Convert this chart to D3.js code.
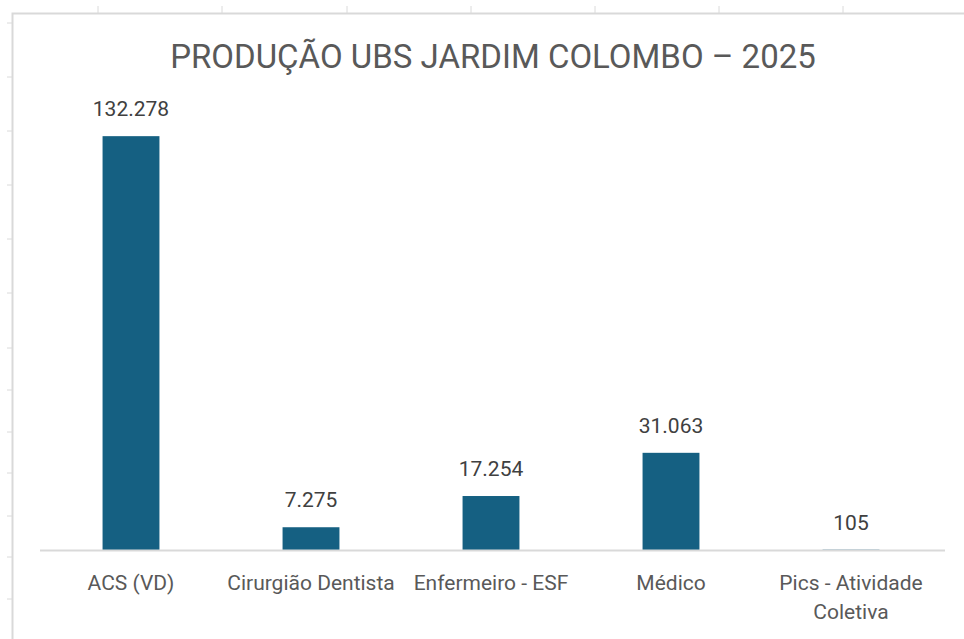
<!DOCTYPE html>
<html>
<head>
<meta charset="utf-8">
<script src="https://cdn.jsdelivr.net/npm/d3@7"></script>
<style>
  body { margin: 0; background: #fff; }
  svg { display: block; font-family: Roboto, "Liberation Sans", sans-serif; }
</style>
</head>
<body>
<div id="chart"></div>
<script>
var categories = ['ACS (VD)', 'Cirurgião Dentista', 'Enfermeiro - ESF', 'Médico', 'Pics - Atividade Coletiva'];
var values = [132278, 7275, 17254, 31063, 105];
var valueLabels = ['132.278', '7.275', '17.254', '31.063', '105'];
var titleText = 'PRODUÇÃO UBS JARDIM COLOMBO – 2025';

// spreadsheet cell grid behind the chart
var colTicks = [98, 222, 347, 471, 595, 719, 843];
var rowTicks = [23, 77, 131, 185, 239, 293, 348, 390, 432, 473, 516, 557, 599];

var width = 964, height = 639;
var textColor = '#595959';

var svg = d3.select('#chart').append('svg')
  .attr('width', width)
  .attr('height', height);

// sheet grid stubs
svg.selectAll('line.col')
  .data(colTicks)
  .enter()
  .append('line')
  .attr('x1', function(d) { return d; })
  .attr('x2', function(d) { return d; })
  .attr('y1', 6)
  .attr('y2', 13)
  .attr('stroke', '#dadada')
  .attr('stroke-width', 1);

svg.selectAll('line.row')
  .data(rowTicks)
  .enter()
  .append('line')
  .attr('x1', 7)
  .attr('x2', 12)
  .attr('y1', function(d) { return d; })
  .attr('y2', function(d) { return d; })
  .attr('stroke', '#dadada')
  .attr('stroke-width', 1);

// chart area border
svg.append('rect')
  .attr('x', 12.5)
  .attr('y', 13.5)
  .attr('width', width)
  .attr('height', height)
  .attr('fill', '#fff')
  .attr('stroke', '#d9d9d9')
  .attr('stroke-width', 2);

var x = d3.scaleBand()
  .domain(categories)
  .range([41, 941])
  .paddingInner(0.684)
  .paddingOuter(0.342);

var y = d3.scaleLinear()
  .domain([0, 140000])
  .range([550, 112]);

svg.append('text')
  .attr('x', 493)
  .attr('y', 68)
  .attr('text-anchor', 'middle')
  .attr('fill', textColor)
  .style('font-size', '33px')
  .text(titleText);

svg.selectAll('rect.bar')
  .data(values)
  .enter()
  .append('rect')
  .attr('class', 'bar')
  .attr('x', function(d, i) { return x(categories[i]); })
  .attr('y', function(d) { return y(d); })
  .attr('width', x.bandwidth())
  .attr('height', function(d) { return y(0) - y(d); })
  .attr('fill', '#156082');

svg.selectAll('text.val')
  .data(values)
  .enter()
  .append('text')
  .attr('class', 'val')
  .attr('x', function(d, i) { return x(categories[i]) + x.bandwidth() / 2; })
  .attr('y', function(d) { return y(d) - 20; })
  .attr('text-anchor', 'middle')
  .attr('fill', '#404040')
  .style('font-size', '21px')
  .text(function(d, i) { return valueLabels[i]; });

// x axis
var xAxis = svg.append('g')
  .attr('transform', 'translate(0,' + y(0) + ')')
  .call(d3.axisBottom(x).tickSize(0).tickPadding(0));

xAxis.select('.domain')
  .attr('d', 'M40,0.5H945')
  .attr('stroke', '#d9d9d9')
  .attr('stroke-width', 2);

xAxis.selectAll('.tick text').remove();

xAxis.selectAll('.tick').each(function(d) {
  var g = d3.select(this);
  var lines = d === 'Pics - Atividade Coletiva' ? ['Pics - Atividade', 'Coletiva'] : [d];
  lines.forEach(function(l, k) {
    g.append('text')
      .attr('y', 40 + k * 29)
      .attr('text-anchor', 'middle')
      .attr('fill', textColor)
      .style('font-family', 'Roboto, "Liberation Sans", sans-serif')
      .style('font-size', '21px')
      .text(l);
  });
});
</script>
</body>
</html>
